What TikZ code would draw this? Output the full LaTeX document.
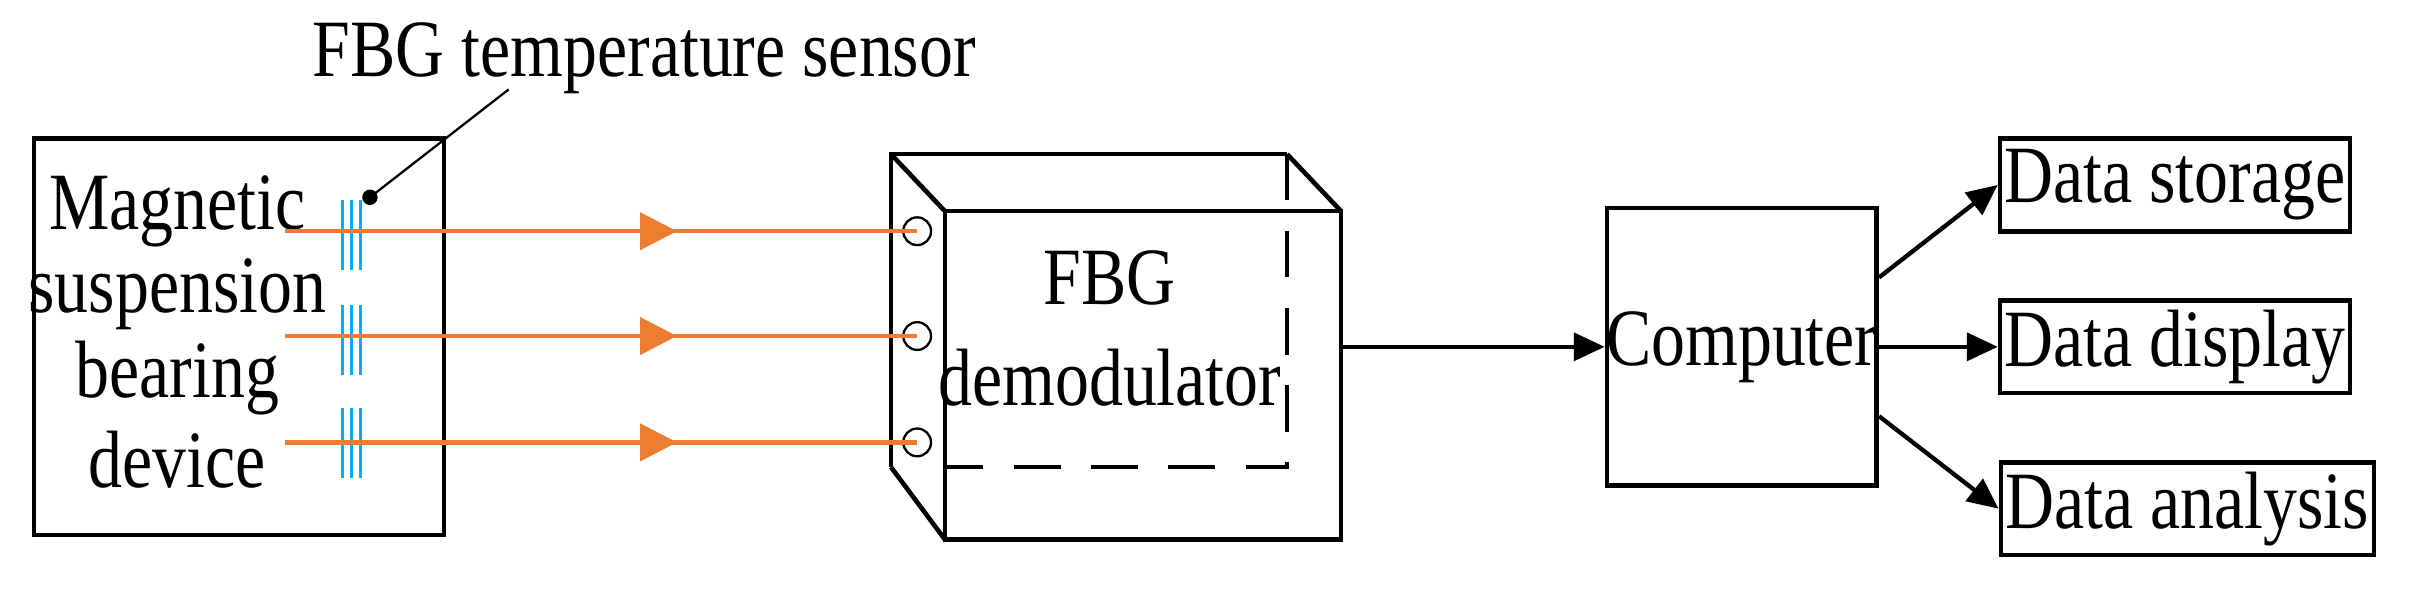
\documentclass[tikz,border=0pt]{standalone}
\usepackage{fontspec}
\setmainfont{Liberation Serif}
\usetikzlibrary{arrows.meta,decorations.markings}
\definecolor{org}{RGB}{237,125,49}
\definecolor{blu}{RGB}{0,176,240}
\newcommand{\tx}[1]{\scalebox{1}[1.2]{#1}}
\begin{document}
\begin{tikzpicture}[x=1pt,y=-1pt,
  txt/.style={font=\fontsize{44}{48}\selectfont,inner sep=0pt},
  box/.style={draw,line width=3pt},
  fiber/.style={org,line width=2.8pt,postaction={decorate},decoration={markings,mark=at position 0.62 with {\arrow{Triangle[length=24pt,width=24pt]}}}},
  blk/.style={line width=2.8pt,-{Triangle[length=20pt,width=18pt]}},
  sens/.style={blu,line width=2pt}]
\useasboundingbox (0,0) rectangle (1568,385);
% left device
\draw[box] (22,90) rectangle (288,347);
\node[txt] (t1) at (115,137) {\tx{Magnetic}};
\node[txt] (t2) at (115,191) {\tx{suspension}};
\node[txt] (t3) at (115,245) {\tx{bearing}};
\node[txt] (t4) at (115,298) {\tx{device}};
% sensors
\foreach \yy in {130,198,265}{
  \foreach \xx in {222,228,234}{\draw[sens] (\xx,\yy) -- (\xx,\yy+45);}
}
\fill (240,128) circle (5pt);
\coordinate (dot) at (240,128);
\node[txt] (lab) at (418,38) {\tx{FBG temperature sensor}};
\draw[line width=1.5pt] (dot) -- (330,58);
% demodulator box
\draw[box] (578,303) -- (578,100) -- (835,100);
\draw[box] (578,100) -- (613,137);
\draw[box] (835,100) -- (870,137);
\draw[box] (578,303) -- (613,350);
\draw[box] (835,303) -- (855,330);
\draw[box,fill=white] (613,137) rectangle (870,350);
\draw[box,dash pattern=on 30pt off 20pt] (835,100) -- (835,303) -- (613,303);
\foreach \yy/\n in {150/c1,218/c2,287/c3}{
  \node[draw,line width=1.5pt,circle,minimum size=18pt,inner sep=0pt,fill=white] (\n) at (595,\yy) {};
}
\node[txt] (d1) at (720,180) {\tx{FBG}};
\node[txt] (d2) at (720,245) {\tx{demodulator}};
\coordinate (f1) at (185,150);
\coordinate (f2) at (185,218);
\coordinate (f3) at (185,287);
\draw[fiber] (f1) -- (c1.center);
\draw[fiber] (f2) -- (c2.center);
\draw[fiber] (f3) -- (c3.center);
% computer
\node[box,minimum width=175pt,minimum height=180pt,inner sep=0pt] (comp) at (1130,225) {};
\node[txt] at (comp) {\tx{Computer}};
\coordinate (dout) at (870,225);
\draw[blk] (dout) -- (comp.west);
\node[box,minimum width=227pt,minimum height=60pt,txt] (s) at (1411,120) {\tx{Data storage}};
\node[box,minimum width=227pt,minimum height=60pt,txt] (dd) at (1411,225) {\tx{Data display}};
\node[box,minimum width=242pt,minimum height=60pt,txt] (a) at (1419,330) {\tx{Data analysis}};
\draw[blk] ([yshift=45pt]comp.east) -- (s.west);
\draw[blk] (comp.east) -- (dd.west);
\draw[blk] ([yshift=-45pt]comp.east) -- (a.west);
\end{tikzpicture}
\end{document}
